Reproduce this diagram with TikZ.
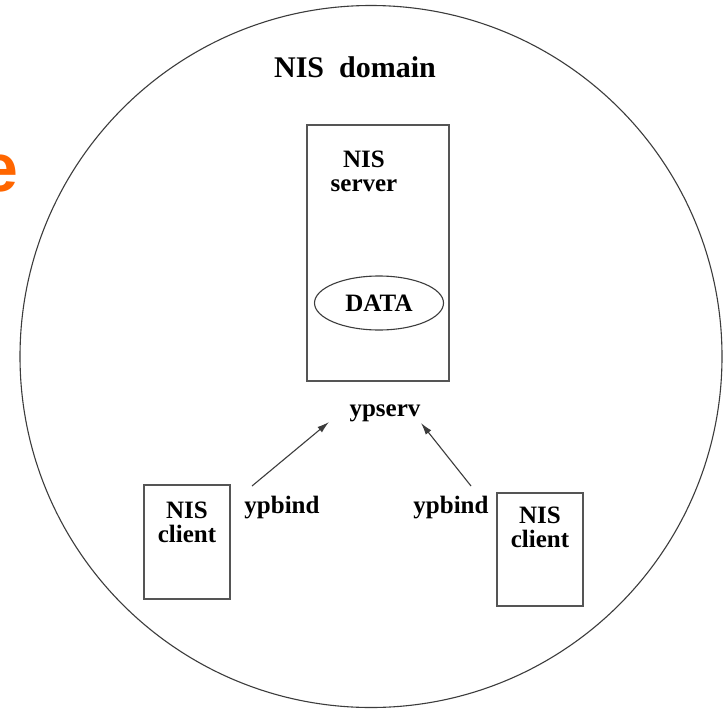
\documentclass[tikz,border=0pt]{standalone}
\usepackage{fontspec}
\setmainfont{Liberation Serif}
\newfontfamily\headsans{Liberation Sans}
\usetikzlibrary{arrows.meta,shapes.geometric}
\definecolor{boxgray}{RGB}{85,85,85}
\definecolor{linegray}{RGB}{60,60,60}
\definecolor{headorange}{RGB}{255,102,0}
\begin{document}
\begin{tikzpicture}[x=1pt,y=-1pt,
  lbl/.style={font=\bfseries\fontsize{25}{24}\selectfont, inner sep=0pt, align=center},
  hostbox/.style={draw=boxgray, line width=2.2pt, inner sep=0pt},
  link/.style={draw=linegray, line width=1.1pt, -{Latex[length=12pt,width=7pt]}}
]
\useasboundingbox (0,0) rectangle (727,709);
\fill[white] (0,0) rectangle (727,709);

% tail of the slide heading, cut by the page edge
\node[font=\headsans\bfseries\fontsize{68}{68}\selectfont, text=headorange,
      anchor=base west, inner sep=0pt] (headtail) at (-20,191) {e};

% the domain boundary
\node[draw=linegray, line width=1.1pt, circle, minimum size=702pt, inner sep=0pt]
  (domain) at (371,356.5) {};
\node[font=\bfseries\fontsize{30}{30}\selectfont, anchor=base, inner sep=0pt]
  (title) at (355,77) {NIS\ \ domain};

% server with its data store
\node[hostbox, minimum width=142pt, minimum height=256pt] (server) at (378,253) {};
\node[lbl, anchor=north] (servertext) at (364,151) {NIS\\server};
\node[draw=linegray, line width=1.1pt, ellipse, minimum width=129pt,
      minimum height=54pt, inner sep=0pt, font=\bfseries\fontsize{25}{24}\selectfont]
  (data) at (379,303) {DATA};
\node[lbl, anchor=base] (ypserv) at (385,416) {ypserv};

% clients
\node[hostbox, minimum width=86pt, minimum height=114pt] (clientL) at (187,542) {};
\node[lbl, anchor=north] (clientLtext) at (187,502) {NIS\\client};
\node[lbl, anchor=base] (bindL) at (282,513) {ypbind};

\node[hostbox, minimum width=86pt, minimum height=113pt] (clientR) at (540,549.5) {};
\node[lbl, anchor=north] (clientRtext) at (540,507) {NIS\\client};
\node[lbl, anchor=base] (bindR) at (451,513) {ypbind};

% bindings from the clients to ypserv
\coordinate (fromL) at (252,486);
\coordinate (toL) at (329,422);
\coordinate (fromR) at (471,486);
\coordinate (toR) at (421,423);
\draw[link] (fromL) -- (toL);
\draw[link] (fromR) -- (toR);
\end{tikzpicture}
\end{document}
